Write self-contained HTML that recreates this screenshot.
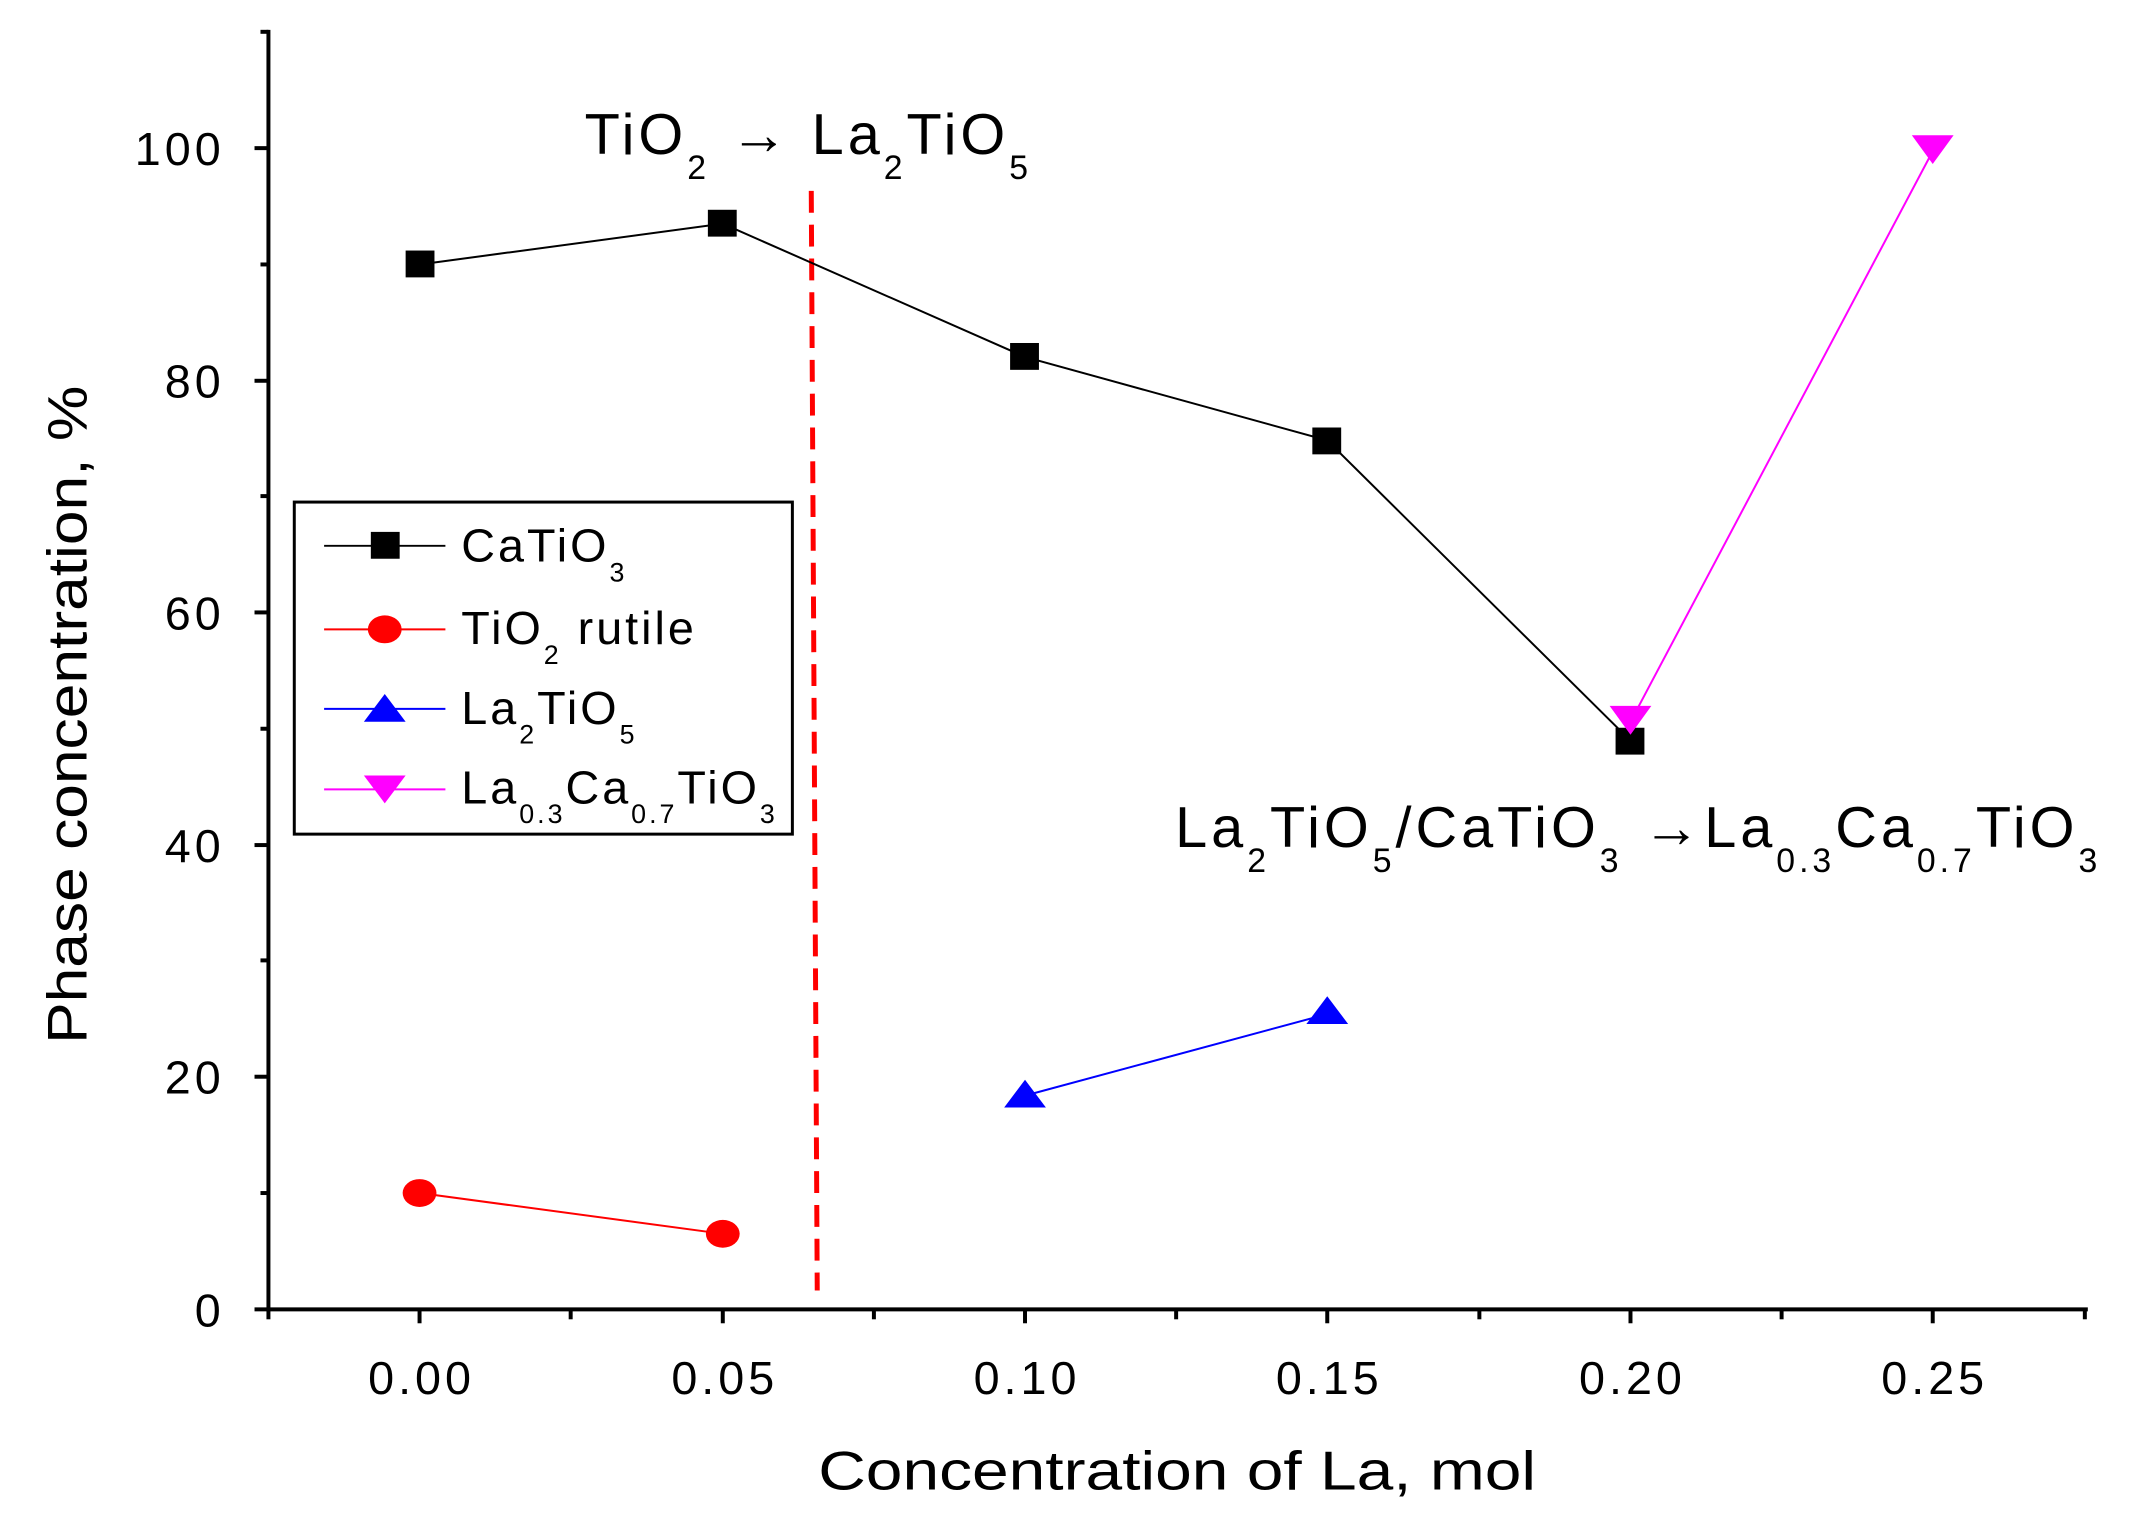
<!DOCTYPE html>
<html><head><meta charset="utf-8"><style>
html,body{margin:0;padding:0;background:#fff;}
svg{display:block;font-family:"Liberation Sans",Arial,sans-serif;}
</style></head><body>
<svg width="2136" height="1521" viewBox="0 0 2136 1521" xmlns="http://www.w3.org/2000/svg">
<rect width="2136" height="1521" fill="#fff"/>
<g transform="scale(0.9942)">
<g stroke="#000" stroke-width="4" fill="none">
<line x1="270" y1="30" x2="270" y2="1319"/>
<line x1="268" y1="1317" x2="2100" y2="1317"/>
<line x1="256" y1="1317" x2="270" y2="1317"/><line x1="262" y1="1200" x2="270" y2="1200"/>
<line x1="256" y1="1083" x2="270" y2="1083"/><line x1="262" y1="966" x2="270" y2="966"/>
<line x1="256" y1="850" x2="270" y2="850"/><line x1="262" y1="733" x2="270" y2="733"/>
<line x1="256" y1="616" x2="270" y2="616"/><line x1="262" y1="499" x2="270" y2="499"/>
<line x1="256" y1="383" x2="270" y2="383"/><line x1="262" y1="266" x2="270" y2="266"/>
<line x1="256" y1="149" x2="270" y2="149"/><line x1="262" y1="32" x2="270" y2="32"/>
<line x1="270" y1="1317" x2="270" y2="1327"/><line x1="422" y1="1317" x2="422" y2="1331"/>
<line x1="574" y1="1317" x2="574" y2="1327"/><line x1="727" y1="1317" x2="727" y2="1331"/>
<line x1="879" y1="1317" x2="879" y2="1327"/><line x1="1031" y1="1317" x2="1031" y2="1331"/>
<line x1="1183" y1="1317" x2="1183" y2="1327"/><line x1="1335" y1="1317" x2="1335" y2="1331"/>
<line x1="1488" y1="1317" x2="1488" y2="1327"/><line x1="1640" y1="1317" x2="1640" y2="1331"/>
<line x1="1792" y1="1317" x2="1792" y2="1327"/><line x1="1944" y1="1317" x2="1944" y2="1331"/>
<line x1="2097" y1="1317" x2="2097" y2="1327"/>
</g>
<g font-size="47" text-anchor="end" letter-spacing="4" fill="#000">
<text x="226" y="1334">0</text><text x="226" y="1100">20</text><text x="226" y="867">40</text>
<text x="226" y="633">60</text><text x="226" y="400">80</text><text x="226" y="166">100</text>
</g>
<g font-size="47" text-anchor="middle" letter-spacing="4" fill="#000">
<text x="424" y="1402">0.00</text><text x="729" y="1402">0.05</text><text x="1033" y="1402">0.10</text>
<text x="1337" y="1402">0.15</text><text x="1642" y="1402">0.20</text><text x="1946" y="1402">0.25</text>
</g>
<text x="1184" y="1498" font-size="55" text-anchor="middle" textLength="722" lengthAdjust="spacingAndGlyphs">Concentration of La, mol</text>
<text transform="translate(87,719) rotate(-90)" font-size="56" text-anchor="middle" textLength="662" lengthAdjust="spacingAndGlyphs">Phase concentration, %</text>
<line x1="816" y1="192" x2="822" y2="1298" stroke="#f00" stroke-width="5" stroke-dasharray="22,12"/>
<polyline points="422,266 727,225 1031,359 1335,443 1640,745" fill="none" stroke="#000" stroke-width="2"/>
<polyline points="422,1200 727,1241" fill="none" stroke="#f00" stroke-width="2"/>
<polyline points="1031,1102 1335,1020" fill="none" stroke="#00f" stroke-width="2"/>
<polyline points="1640,726 1944,152" fill="none" stroke="#f0f" stroke-width="2"/>
<g fill="#000">
<rect x="408" y="252" width="29" height="27"/><rect x="712" y="211" width="29" height="27"/>
<rect x="1016" y="345" width="29" height="27"/><rect x="1320" y="430" width="29" height="27"/>
<rect x="1625" y="732" width="29" height="27"/>
</g>
<g fill="#f00"><ellipse cx="422" cy="1200" rx="17" ry="14"/><ellipse cx="727" cy="1241" rx="17" ry="14"/></g>
<g fill="#00f"><polygon points="1031,1086 1010,1114 1052,1114"/><polygon points="1335,1002 1314,1030 1356,1030"/></g>
<g fill="#f0f"><polygon points="1619,710 1661,710 1640,739"/><polygon points="1923,136 1965,136 1944,165"/></g>
<rect x="296" y="505" width="501" height="334" fill="#fff" stroke="#000" stroke-width="3"/>
<line x1="326" y1="549" x2="448" y2="549" stroke="#000" stroke-width="2"/>
<rect x="373" y="535" width="29" height="27" fill="#000"/>
<line x1="326" y1="633" x2="448" y2="633" stroke="#f00" stroke-width="2"/>
<ellipse cx="387" cy="633" rx="17" ry="14" fill="#f00"/>
<line x1="326" y1="713" x2="448" y2="713" stroke="#00f" stroke-width="2"/>
<polygon points="387,698 366,726 408,726" fill="#00f"/>
<line x1="326" y1="794" x2="448" y2="794" stroke="#f0f" stroke-width="2"/>
<polygon points="366,780 408,780 387,808" fill="#f0f"/>
<g font-size="47" letter-spacing="3" fill="#000">
<text x="464" y="565">CaTiO<tspan font-size="27" dy="20">3</tspan></text>
<text x="464" y="648">TiO<tspan font-size="27" dy="20">2</tspan><tspan dy="-20"> rutile</tspan></text>
<text x="464" y="728">La<tspan font-size="27" dy="20">2</tspan><tspan dy="-20">TiO</tspan><tspan font-size="27" dy="20">5</tspan></text>
<text x="464" y="808">La<tspan font-size="27" dy="20">0.3</tspan><tspan dy="-20">Ca</tspan><tspan font-size="27" dy="20">0.7</tspan><tspan dy="-20">TiO</tspan><tspan font-size="27" dy="20">3</tspan></text>
</g>
<g font-size="58" letter-spacing="4" fill="#000">
<text x="588" y="155">TiO<tspan font-size="34" dy="25">2</tspan><tspan dy="-25"> → La</tspan><tspan font-size="34" dy="25">2</tspan><tspan dy="-25">TiO</tspan><tspan font-size="34" dy="25">5</tspan></text>
<text x="1182" y="852">La<tspan font-size="34" dy="25">2</tspan><tspan dy="-25">TiO</tspan><tspan font-size="34" dy="25">5</tspan><tspan dy="-25">/CaTiO</tspan><tspan font-size="34" dy="25">3</tspan><tspan dy="-25"> →La</tspan><tspan font-size="34" dy="25">0.3</tspan><tspan dy="-25">Ca</tspan><tspan font-size="34" dy="25">0.7</tspan><tspan dy="-25">TiO</tspan><tspan font-size="34" dy="25">3</tspan></text>
</g>
</g>
</svg>
</body></html>
